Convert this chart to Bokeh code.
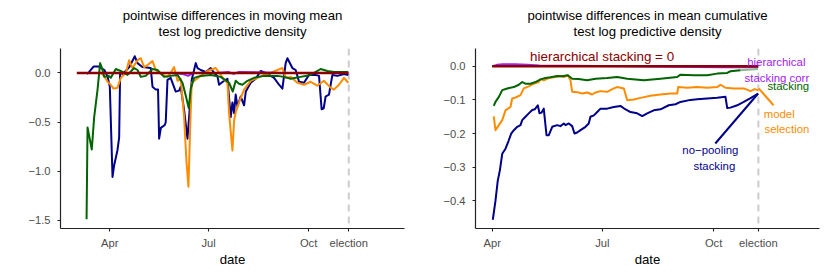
from bokeh.plotting import figure
from bokeh.models import Range1d, FixedTicker, Span, CustomJSTickFormatter
from bokeh.layouts import row, column
from bokeh.embed import file_html
from bokeh.resources import INLINE
from bokeh.core.properties import value

FONT = "Liberation Sans"
NAVY = "#00008B"
GREEN = "#006400"
ORANGE = "#FF8C00"
PURPLE = "#A020F0"
RED = "#8B0000"

# x axis: day of year 2020 (Jan 1 = 0)
tick_days = [91, 182, 274, 311]
tick_labels = ["Apr", "Jul", "Oct", "election"]
election_day = 311

# panel titles
title_left = ["pointwise differences in moving mean", "test log predictive density"]
title_right = ["pointwise differences in mean cumulative", "test log predictive density"]

# ---------- left panel: moving mean differences ----------
mm_nopool_day = [70, 72, 76, 81, 86, 89, 91, 93.5, 95, 98, 99.6, 100.5, 103, 109, 114, 116.5, 121, 128.7, 130.3, 133.3,
                 135.4, 136.4, 138, 141.6, 142.5, 144.1, 147, 151.7, 154.8, 156.3, 159.4, 162.5, 164, 166.4, 168.6, 170.1,
                 171.7, 174.7, 179.3, 183.9, 187, 190, 191.6, 196.2, 199.3, 202.3, 203.9, 205.4, 206.9, 208.5, 211.5,
                 214.6, 216.2, 220.7, 225.3, 229.9, 234.5, 236, 242.2, 246.8, 249.9, 252.9, 254.5, 259.1, 262.1, 265.2,
                 269.8, 274.4, 280.5, 283.6, 285.1, 286, 287.9, 289.7, 292.8, 295.9, 300.5, 306.6, 310.6]
mm_nopool_val = [-0.01, 0.01, 0.065, 0.065, 0.03, -0.04, -0.14, -1.06, -0.94, -0.79, -0.66, 0.0, -0.01, 0.06, 0.17, 0.10,
                 0.06, 0.05, -0.14, -0.17, -0.17, -0.67, -0.56, -0.53, -0.50, -0.07, -0.05, -0.19, -0.18, -0.14, -0.38,
                 -0.67, -0.45, -0.07, 0.03, 0.10, 0.05, 0.03, 0.01, 0.05, 0.0, -0.03, -0.12, -0.08, -0.06, -0.45, -0.30,
                 -0.41, -0.22, -0.34, -0.24, -0.33, -0.19, -0.10, -0.06, 0.02, 0.0, -0.01, -0.05, -0.12, -0.16, 0.10,
                 0.15, 0.05, 0.03, -0.09, -0.10, -0.02, -0.02, -0.03, -0.24, -0.37, -0.36, -0.24, -0.22, -0.02, -0.03,
                 -0.01, -0.02]

mm_stack_day = [69.6, 70.5, 74.4, 76.6, 79.7, 82.1, 84.3, 85.8, 90.1, 91.9, 96.5, 101.1, 107.3, 113.4, 116.5, 119.5,
                124.1, 130.3, 134.9, 141, 147.1, 153.3, 157.9, 160.9, 163.7, 165.5, 168.6, 174.7, 183.9, 193.1, 200.8,
                204.2, 206.9, 210, 213.1, 217.7, 223.8, 233, 245.3, 251.4, 257.5, 266.7, 275.9, 285.1, 291.3, 297.4,
                310.6]
mm_stack_val = [-1.49, -0.555, -0.78, -0.45, -0.17, 0.10, 0.03, -0.04, -0.03, -0.05, 0.04, 0.02, -0.02, 0.05, 0.03,
                -0.04, -0.03, 0.04, 0.03, -0.04, -0.03, -0.02, -0.10, -0.23, -0.36, -0.16, -0.05, -0.03, -0.02, -0.04,
                -0.10, -0.19, -0.08, -0.11, -0.12, -0.08, -0.05, -0.03, -0.03, -0.04, -0.06, -0.04, -0.02, 0.04, 0.02,
                0.01, 0.01]

mm_select_day = [82.7, 85.8, 88.9, 91.9, 94.4, 98.1, 101.1, 105.7, 108.8, 111.9, 116.5, 119.5, 122.6, 125.7, 130.3,
                 133.3, 137.9, 144.1, 147.1, 150.1, 153.3, 156.3, 159.4, 161.5, 163.4, 164.8, 166.4, 170.1, 174.7,
                 180.8, 188.5, 193.1, 196.2, 199.3, 200.8, 203.9, 205.4, 206.9, 210, 214.6, 220.7, 226.9, 233, 239.1,
                 245.3, 249.9, 252.9, 257.5, 263.7, 269.8, 275.9, 282, 288.1, 294.2, 297.3, 302, 306.6, 310.6]
mm_select_val = [0.0, -0.03, -0.09, -0.12, -0.16, -0.15, -0.05, 0.0, 0.13, 0.05, 0.13, 0.15, 0.06, 0.08, 0.12, 0.03,
                 -0.01, -0.04, 0.0, 0.06, -0.08, -0.06, -0.45, -0.89, -1.16, -0.62, -0.10, -0.07, -0.03, 0.02, 0.05,
                 -0.02, -0.07, -0.10, -0.41, -0.79, -0.49, -0.40, -0.30, -0.17, -0.08, -0.05, -0.02, 0.0, 0.03, 0.05,
                 -0.05, -0.04, -0.10, -0.12, -0.09, -0.13, -0.08, -0.15, -0.17, -0.12, -0.05, -0.10]

mm_corr_day = [70, 100, 150, 158, 163, 168, 190, 200, 205, 210, 250, 280, 310.6]
mm_corr_val = [0.0, 0.0, 0.0, -0.01, -0.03, 0.0, 0.0, 0.01, -0.01, 0.01, 0.0, 0.0, 0.0]

mm_hier_day = [60.6, 310.6]
mm_hier_val = [0.0, 0.0]

# ---------- right panel: mean cumulative differences ----------
cm_nopool_day = [91.5, 93.7, 95.6, 97.3, 99.3, 102, 104.7, 106.7, 108.9, 111.7, 114.4, 115.8, 118.5, 121.2, 124.1,
                 126.2, 128.7, 130.1, 131.7, 133.6, 135.9, 137.8, 140.6, 144.7, 147.4, 150.2, 151.6, 154.3, 157.1, 159,
                 161.2, 164, 168.1, 170.8, 172.2, 175, 177.8, 180.5, 186, 191.5, 197, 199.8, 205.3, 210.8, 215, 219.1,
                 224.5, 230.1, 236.9, 242.5, 246.6, 254.9, 260.4, 268.7, 276.9, 283.8, 285.2, 287.9, 293.5, 298.9,
                 304.5, 310.8]
cm_nopool_val = [-0.456, -0.40, -0.34, -0.31, -0.26, -0.245, -0.22, -0.20, -0.19, -0.18, -0.175, -0.16, -0.15, -0.14,
                 -0.13, -0.128, -0.116, -0.14, -0.138, -0.126, -0.205, -0.205, -0.18, -0.175, -0.178, -0.17, -0.175,
                 -0.17, -0.178, -0.20, -0.197, -0.19, -0.18, -0.17, -0.15, -0.146, -0.136, -0.126, -0.126, -0.121,
                 -0.118, -0.125, -0.136, -0.14, -0.148, -0.14, -0.131, -0.128, -0.116, -0.113, -0.106, -0.10, -0.098,
                 -0.096, -0.094, -0.091, -0.124, -0.123, -0.116, -0.106, -0.095, -0.081]

cm_select_day = [92.3, 93.7, 96.5, 99.3, 102, 106.1, 107.5, 110.3, 114.4, 117.1, 121.2, 125.4, 129.5, 130.9, 133.6,
                 137.8, 143.3, 147.4, 150.2, 153.5, 155.7, 157.1, 161.2, 165.4, 169.5, 173.6, 176.4, 180.5, 186, 191.5,
                 194.3, 199.8, 202.6, 208, 213.6, 221.8, 230.1, 238.4, 243.9, 244.7, 252.2, 260.4, 268.7, 276.9, 279.7,
                 283.8, 290.7, 298.9, 304.5, 307.8, 310.8]
cm_select_val = [-0.149, -0.19, -0.175, -0.16, -0.131, -0.121, -0.096, -0.093, -0.086, -0.066, -0.06, -0.052, -0.047,
                 -0.039, -0.042, -0.035, -0.032, -0.029, -0.032, -0.027, -0.042, -0.076, -0.077, -0.081, -0.078, -0.084,
                 -0.078, -0.074, -0.076, -0.066, -0.062, -0.066, -0.101, -0.099, -0.094, -0.088, -0.084, -0.081, -0.081,
                 -0.062, -0.064, -0.062, -0.064, -0.062, -0.055, -0.064, -0.066, -0.066, -0.074, -0.068, -0.071]

cm_stack_day = [92.3, 93.7, 96.5, 99.3, 103.4, 108.9, 113, 115.8, 118.5, 122.7, 126.8, 130.9, 135, 139.2, 144.7, 148.8,
                153.5, 157.1, 162.3, 169.5, 176.4, 186, 194.3, 202.6, 216.3, 230.1, 243.9, 246.6, 257.6, 268.7, 276.9,
                285.2, 287.9, 296.2]
cm_stack_val = [-0.118, -0.106, -0.091, -0.071, -0.066, -0.062, -0.055, -0.047, -0.052, -0.052, -0.047, -0.039, -0.035,
                -0.033, -0.029, -0.03, -0.027, -0.037, -0.038, -0.042, -0.037, -0.035, -0.032, -0.037, -0.042, -0.037,
                -0.032, -0.025, -0.027, -0.027, -0.022, -0.02, -0.015, -0.012]
cm_stack_tail_day = [296.2, 310.8]
cm_stack_tail_val = [-0.012, -0.008]

cm_corr_day = [91, 95, 100, 110, 120, 130, 200, 260, 280, 300, 310.8]
cm_corr_val = [0.0, 0.004, 0.006, 0.006, 0.004, 0.002, 0.0, -0.002, -0.003, -0.003, -0.002]

cm_hier_day = [91, 310.8]
cm_hier_val = [0.0, 0.0]

# labels in the right panel
lab_text = ["hierarchical stacking = 0", "hierarchical", "stacking corr", "stacking", "model", "selection",
            "no\u2212pooling", "stacking"]
lab_day = [181.8, 325.8, 326.3, 335.7, 328.2, 334.6, 271.3, 274.6]
lab_val = [0.0276, 0.0128, -0.0336, -0.0594, -0.1405, -0.185, -0.2495, -0.296]
lab_color = [RED, PURPLE, PURPLE, GREEN, ORANGE, ORANGE, NAVY, NAVY]
lab_size = ["13.4px"] + ["11.4px"] * 7

# leader segments (label -> series end)
seg_x0 = [275.4, 311.3]
seg_y0 = [-0.2296, -0.066]
seg_x1 = [310.8, 323.5]
seg_y1 = [-0.081, -0.116]
seg_color = [NAVY, ORANGE]

# ---------- layout constants (pixels) ----------
FRAME_W, FRAME_H = 344, 180
LEFT_BORDER = 60
LEFT_FIG_RIGHT, RIGHT_FIG_RIGHT = 11, 3
TOP_H = 48
BOTTOM_H = 42
LEFT_FIG_W = LEFT_BORDER + FRAME_W + LEFT_FIG_RIGHT
TOTAL_W = LEFT_FIG_W + LEFT_BORDER + FRAME_W + RIGHT_FIG_RIGHT

# title strip: a plain figure whose frame is in pixel units
strip = figure(width=TOTAL_W, height=TOP_H, x_range=Range1d(0, TOTAL_W), y_range=Range1d(0, TOP_H),
               output_backend="svg", toolbar_location=None, title=None,
               x_axis_location=None, y_axis_location=None,
               min_border_left=0, min_border_right=0, min_border_top=0, min_border_bottom=0)
strip.grid.visible = False
strip.outline_line_color = None
strip.background_fill_color = "white"
strip.border_fill_color = "white"
centers = [LEFT_BORDER + FRAME_W / 2, LEFT_FIG_W + LEFT_BORDER + FRAME_W / 2]
strip.text(x=[centers[0], centers[0], centers[1], centers[1]],
           y=[TOP_H - 15, TOP_H - 30.7, TOP_H - 15, TOP_H - 30.7],
           text=[title_left[0], title_left[1], title_right[0], title_right[1]],
           text_color="black", text_font=value(FONT), text_font_size="13.2px",
           text_align="center", text_baseline="middle")


def make_fig(xr, yr, yticks, br):
    p = figure(frame_width=FRAME_W, frame_height=FRAME_H, x_range=Range1d(*xr), y_range=Range1d(*yr),
               output_backend="svg", toolbar_location=None, title=None,
               min_border_left=LEFT_BORDER, min_border_right=br, min_border_top=0, min_border_bottom=BOTTOM_H)
    p.grid.visible = False
    p.outline_line_color = None
    p.background_fill_color = "white"
    p.border_fill_color = "white"
    p.xaxis.ticker = FixedTicker(ticks=tick_days)
    p.xaxis.major_label_overrides = {d: l for d, l in zip(tick_days, tick_labels)}
    p.yaxis.ticker = FixedTicker(ticks=yticks)
    p.yaxis.formatter = CustomJSTickFormatter(code="return tick.toFixed(1).replace('-', '\u2212');")
    for ax in (p.xaxis, p.yaxis):
        ax.axis_line_color = "#222222"
        ax.axis_line_width = 1.2
        ax.major_tick_line_color = "#222222"
        ax.major_tick_line_width = 1.1
        ax.major_tick_in = 0
        ax.major_tick_out = 3
        ax.minor_tick_line_color = None
        ax.major_label_text_font = FONT
        ax.major_label_text_font_size = "11.2px"
        ax.major_label_text_color = "#4d4d4d"
    p.yaxis.major_label_standoff = 7
    p.xaxis.major_label_standoff = 5
    p.xaxis.axis_label = "date"
    p.xaxis.axis_label_text_font = FONT
    p.xaxis.axis_label_text_font_size = "13.2px"
    p.xaxis.axis_label_text_font_style = "normal"
    p.xaxis.axis_label_text_color = "black"
    p.xaxis.axis_label_standoff = 0
    p.add_layout(Span(location=election_day, dimension="height", line_color="#cccccc",
                      line_width=2, line_dash="7 5", level="underlay"))
    return p


lw = dict(line_width=2, line_join="round")

p1 = make_fig((45.6, 362.3), (-1.585, 0.249), [-1.5, -1.0, -0.5, 0.0], LEFT_FIG_RIGHT)
p1.line(mm_nopool_day, mm_nopool_val, line_color=NAVY, **lw)
p1.line(mm_select_day, mm_select_val, line_color=ORANGE, **lw)
p1.line(mm_stack_day, mm_stack_val, line_color=GREEN, **lw)
p1.line(mm_corr_day, mm_corr_val, line_color=PURPLE, **lw)
p1.line(mm_hier_day, mm_hier_val, line_color=RED, line_width=2.6)

p2 = make_fig((77.2, 361.5), (-0.482, 0.0526), [-0.4, -0.3, -0.2, -0.1, 0.0], RIGHT_FIG_RIGHT)
p2.line(cm_nopool_day, cm_nopool_val, line_color=NAVY, **lw)
p2.line(cm_select_day, cm_select_val, line_color=ORANGE, **lw)
p2.line(cm_stack_day, cm_stack_val, line_color=GREEN, **lw)
p2.line(cm_stack_tail_day, cm_stack_tail_val, line_color=GREEN, line_alpha=0.45, **lw)
p2.line(cm_corr_day, cm_corr_val, line_color=PURPLE, **lw)
p2.line(cm_hier_day, cm_hier_val, line_color=RED, line_width=2.6)
p2.segment(x0=seg_x0, y0=seg_y0, x1=seg_x1, y1=seg_y1, line_color=seg_color, line_width=2)
p2.text(x=lab_day, y=lab_val, text=lab_text, text_color=lab_color, text_font=value(FONT),
        text_font_size=lab_size, text_align="center", text_baseline="middle")

layout = column(strip, row(p1, p2))
open("out.html", "w").write(file_html(layout, INLINE))
